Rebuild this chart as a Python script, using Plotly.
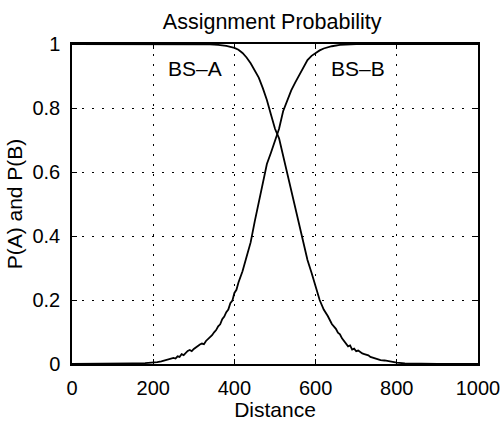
import plotly.graph_objects as go

# distance samples and assignment probabilities
dist_b = [0, 50, 100, 150, 180, 200, 210, 220, 230, 240, 250, 255, 260, 265, 270,
          275, 280, 285, 290, 295, 300, 305, 310, 315, 320, 325, 330, 335, 340,
          345, 350, 355, 360, 365, 370, 375, 380, 385, 390, 395, 400, 405, 410,
          420, 430, 440, 450, 460, 470, 480, 490, 500, 510, 520, 530, 540, 550,
          560, 570, 580, 590, 600, 610, 620, 630, 640, 660, 680, 700, 1000]
p_b = [0, 0, 0.001, 0.002, 0.003, 0.004, 0.006, 0.008, 0.012, 0.014, 0.019, 0.017,
       0.024, 0.022, 0.031, 0.028, 0.036, 0.041, 0.044, 0.040, 0.047, 0.052, 0.055,
       0.061, 0.064, 0.062, 0.072, 0.078, 0.082, 0.090, 0.099, 0.106, 0.118, 0.124,
       0.140, 0.148, 0.162, 0.170, 0.190, 0.198, 0.222, 0.232, 0.255, 0.29, 0.335,
       0.38, 0.445, 0.505, 0.57, 0.625, 0.66, 0.695, 0.735, 0.79, 0.825, 0.855,
       0.88, 0.905, 0.93, 0.95, 0.963, 0.972, 0.98, 0.986, 0.99, 0.993, 0.997,
       0.999, 1, 1]

dist_a = [0, 300, 340, 360, 380, 400, 410, 420, 430, 440, 450, 460, 470, 480, 490,
          500, 510, 520, 530, 540, 550, 560, 570, 580, 590, 600, 610, 620, 630,
          640, 650, 655, 660, 665, 670, 675, 680, 685, 690, 695, 700, 705, 710,
          715, 720, 725, 730, 735, 740, 745, 750, 760, 770, 780, 790, 800, 820,
          850, 900, 1000]
p_a = [1, 1, 0.999, 0.997, 0.994, 0.988, 0.982, 0.972, 0.958, 0.94, 0.918, 0.895,
       0.862, 0.825, 0.78, 0.735, 0.705, 0.65, 0.6, 0.55, 0.49, 0.43, 0.385, 0.325,
       0.285, 0.24, 0.2, 0.17, 0.15, 0.125, 0.11, 0.098, 0.093, 0.080, 0.072, 0.066,
       0.055, 0.058, 0.045, 0.048, 0.040, 0.042, 0.036, 0.033, 0.031, 0.029, 0.027,
       0.022, 0.020, 0.017, 0.015, 0.012, 0.011, 0.008, 0.006, 0.004, 0.002,
       0.001, 0, 0]

x_ticks = [0, 200, 400, 600, 800, 1000]
y_ticks = [0, 0.2, 0.4, 0.6, 0.8, 1]
y_tick_text = ["0", "0.2", "0.4", "0.6", "0.8", "1"]

font = "Liberation Sans, Arial, sans-serif"

fig = go.Figure()
fig.add_trace(go.Scatter(x=dist_a, y=p_a, mode="lines",
                         line=dict(color="black", width=1.8), showlegend=False))
fig.add_trace(go.Scatter(x=dist_b, y=p_b, mode="lines",
                         line=dict(color="black", width=1.8), showlegend=False))

fig.add_annotation(x=302, y=0.925, text="BS\u2013A", showarrow=False,
                   font=dict(size=21, color="black", family=font))
fig.add_annotation(x=705, y=0.925, text="BS\u2013B", showarrow=False,
                   font=dict(size=21, color="black", family=font))

axis_common = dict(
    showline=True, linecolor="black", linewidth=1.5, mirror="ticks",
    ticks="inside", ticklen=5, tickcolor="black", automargin=False,
    showgrid=True, gridcolor="black", gridwidth=1, griddash="2px,8px",
    zeroline=False, tickfont=dict(size=20, color="black", family=font),
)

fig.update_xaxes(range=[0, 1000], tickvals=x_ticks, ticklabelstandoff=5,
                 title=dict(text="Distance", standoff=0,
                            font=dict(size=21, color="black", family=font)),
                 **axis_common)
fig.update_yaxes(range=[0, 1], tickvals=y_ticks, ticktext=y_tick_text,
                 ticklabelstandoff=6,
                 title=dict(text="P(A) and P(B)", standoff=4,
                            font=dict(size=21, color="black", family=font)),
                 **axis_common)

fig.update_layout(
    width=504, height=421,
    margin=dict(l=72, r=26, t=44, b=57, autoexpand=False),
    paper_bgcolor="white", plot_bgcolor="white",
    title=dict(text="Assignment Probability", x=0.54, xanchor="center",
               y=0.948, yanchor="middle", yref="container", automargin=False,
               font=dict(size=21.5, color="black", family=font)),
)

# drop the default body margin so the figure fills the window exactly
fig.write_html("out.html", config={"displayModeBar": False},
               post_script="document.body.style.margin='0';"
                           "document.body.style.overflow='hidden';")
